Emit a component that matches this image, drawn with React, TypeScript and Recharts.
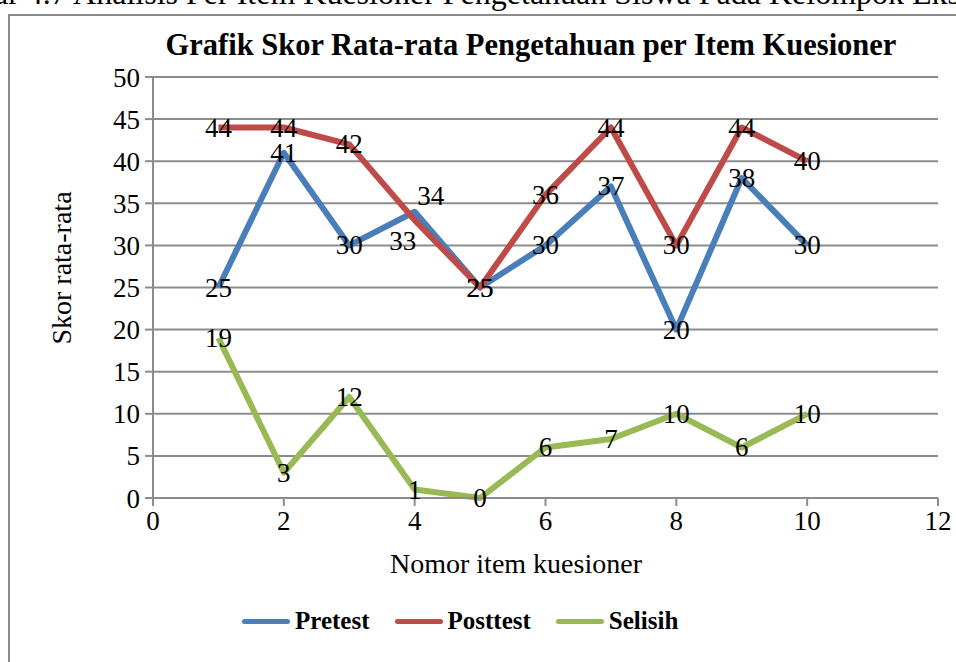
import React from "react";
import { LineChart, Line, XAxis, YAxis, CartesianGrid, LabelList } from "recharts";

// item numbers on the x axis
const items = [1, 2, 3, 4, 5, 6, 7, 8, 9, 10];
const pretest = [25, 41, 30, 34, 25, 30, 37, 20, 38, 30];
const posttest = [44, 44, 42, 33, 25, 36, 44, 30, 44, 40];
const selisih = [19, 3, 12, 1, 0, 6, 7, 10, 6, 10];
const xTicks = [0, 2, 4, 6, 8, 10, 12];
const yTicks = [0, 5, 10, 15, 20, 25, 30, 35, 40, 45, 50];

const data = items.map((item, i) => ({
  item,
  pretest: pretest[i],
  posttest: posttest[i],
  selisih: selisih[i],
}));

const FONT = "'Liberation Serif', serif";
const GRID = "#8c8c8c";

const series = [
  { key: "pretest", name: "Pretest", color: "#4a7ebb" },
  { key: "posttest", name: "Posttest", color: "#be4b48" },
  { key: "selisih", name: "Selisih", color: "#98b954" },
];

// labels that were dragged off their point in the original
const nudges: Record<string, Record<number, [number, number]>> = {
  pretest: { 3: [16, -16] },
  posttest: { 3: [-12, 21] },
};

function makeLabel(key: string) {
  return (props: any) => {
    const { x, y, value, index } = props;
    const [dx, dy] = nudges[key]?.[index] ?? [0, 0];
    return (
      <text
        x={x + dx}
        y={y + dy}
        textAnchor="middle"
        dominantBaseline="central"
        fontFamily={FONT}
        fontSize={27}
        fill="#000"
      >
        {value}
      </text>
    );
  };
}

export default function App() {
  return (
    <div
      style={{
        position: "absolute",
        left: 0,
        top: 0,
        width: 956,
        height: 662,
        overflow: "hidden",
        background: "#fff",
        fontFamily: FONT,
      }}
    >
      <div
        style={{
          position: "absolute",
          left: -22,
          top: -25,
          whiteSpace: "nowrap",
          fontSize: 32,
          color: "#000",
        }}
      >
        bar 4.7 Analisis Per Item Kuesioner Pengetahuan Siswa Pada Kelompok Eksperimen
      </div>
      <div
        style={{
          position: "absolute",
          left: 8,
          top: 14,
          width: 980,
          height: 700,
          border: "2px solid #8a8a8a",
        }}
      />
      <LineChart
        width={956}
        height={662}
        data={data}
        margin={{ top: 77, right: 18, bottom: 134, left: 93 }}
        style={{ position: "absolute", left: 0, top: 0 }}
      >
        <CartesianGrid vertical={false} stroke={GRID} strokeWidth={2} />
        <XAxis
          dataKey="item"
          type="number"
          domain={[0, 12]}
          ticks={xTicks}
          interval={0}
          stroke={GRID}
          strokeWidth={2}
          tickSize={8}
          tick={{ fontSize: 27, fill: "#000", fontFamily: FONT }}
          tickMargin={5}
        />
        <YAxis
          type="number"
          domain={[0, 50]}
          ticks={yTicks}
          interval={0}
          width={60}
          stroke={GRID}
          strokeWidth={2}
          tickSize={8}
          tick={{ fontSize: 27, fill: "#000", fontFamily: FONT }}
          tickMargin={5}
        />
        {series.map((s) => (
          <Line
            key={s.key}
            dataKey={s.key}
            name={s.name}
            stroke={s.color}
            strokeWidth={6}
            strokeLinejoin="round"
            dot={false}
            activeDot={false}
            isAnimationActive={false}
            type="linear"
          >
            <LabelList dataKey={s.key} content={makeLabel(s.key)} />
          </Line>
        ))}
      </LineChart>
      <div
        style={{
          position: "absolute",
          left: 0,
          width: 1062,
          top: 28,
          textAlign: "center",
          fontWeight: "bold",
          fontSize: 30.5,
          whiteSpace: "nowrap",
        }}
      >
        Grafik Skor Rata-rata Pengetahuan per Item Kuesioner
      </div>
      <div
        style={{
          position: "absolute",
          left: 0,
          width: 1032,
          top: 548,
          textAlign: "center",
          fontSize: 28,
          whiteSpace: "nowrap",
        }}
      >
        Nomor item kuesioner
      </div>
      <div
        style={{
          position: "absolute",
          left: 62,
          top: 268,
          transform: "translate(-50%, -50%) rotate(-90deg)",
          fontSize: 28,
          whiteSpace: "nowrap",
        }}
      >
        Skor rata-rata
      </div>
      <div
        style={{
          position: "absolute",
          left: 242,
          top: 607,
          display: "flex",
          alignItems: "center",
          fontWeight: "bold",
          fontSize: 25,
        }}
      >
        {series.map((s) => (
          <div key={s.key} style={{ display: "flex", alignItems: "center", marginRight: 25 }}>
            <div
              style={{
                width: 48,
                height: 5,
                borderRadius: 3,
                background: s.color,
                marginRight: 5,
              }}
            />
            <span>{s.name}</span>
          </div>
        ))}
      </div>
    </div>
  );
}
